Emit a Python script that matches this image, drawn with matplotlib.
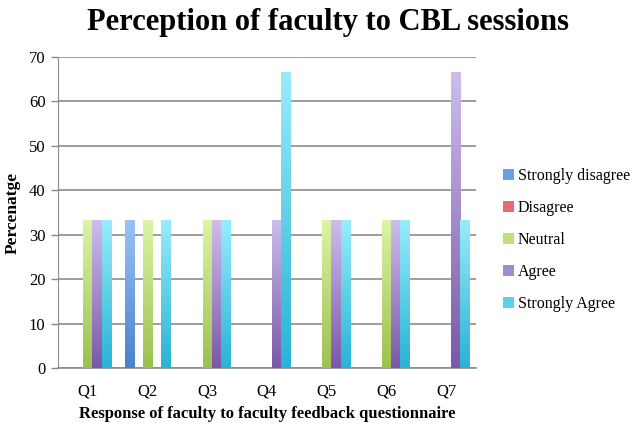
import matplotlib
matplotlib.use("Agg")
import matplotlib.pyplot as plt
import numpy as np
from matplotlib.colors import LinearSegmentedColormap
from matplotlib.patches import Patch

categories = ["Q1", "Q2", "Q3", "Q4", "Q5", "Q6", "Q7"]
series_names = ["Strongly disagree", "Disagree", "Neutral", "Agree", "Strongly Agree"]
strongly_disagree = [0, 33.3, 0, 0, 0, 0, 0]
disagree = [0, 0, 0, 0, 0, 0, 0]
neutral = [33.3, 33.3, 33.3, 0, 33.3, 33.3, 0]
agree = [33.3, 0, 33.3, 33.3, 33.3, 33.3, 66.7]
strongly_agree = [33.3, 33.3, 33.3, 66.7, 33.3, 33.3, 33.3]
values = [strongly_disagree, disagree, neutral, agree, strongly_agree]

# (bottom colour, top colour)
grad_colors = [("#4a80cc", "#9cc2f4"),
               ("#c84040", "#f29a9a"),
               ("#9cc050", "#dcf4a4"),
               ("#7a58a8", "#cdbdec"),
               ("#2ab2d4", "#98ecfb")]
legend_colors = ["#6a9ee6", "#e86a6a", "#c0e07a", "#a48ad0", "#5cd0ec"]

plt.rcParams['font.family'] = ['Liberation Serif', 'DejaVu Serif']

fig = plt.figure(figsize=(6.36, 4.25), dpi=100)
ax = fig.add_axes([58/636, 1-368/425, (476-58)/636, (368-57)/425])

n = len(series_names)
width = 0.154
x = np.arange(len(categories))
grad = np.linspace(0, 1, 256).reshape(-1, 1)
for i, (name, vals) in enumerate(zip(series_names, values)):
    offs = (i - (n - 1) / 2) * width
    bars = ax.bar(x + offs, vals, width, color="none", edgecolor="none", zorder=3)
    cmap = LinearSegmentedColormap.from_list(name, list(grad_colors[i]))
    for b in bars:
        h = b.get_height()
        if h <= 0:
            continue
        x0 = b.get_x()
        im = ax.imshow(grad, cmap=cmap, origin="lower", aspect="auto",
                       extent=[x0, x0 + b.get_width(), 0, h], zorder=3)
        im.set_clip_path(b)

ax.set_xlim(-0.5, len(categories) - 0.5)
ax.set_ylim(0, 70)
ax.set_yticks(range(0, 71, 10))
ax.set_xticks(x)
ax.set_xticklabels(categories, fontsize=12)
ax.tick_params(axis='y', labelsize=12, length=5, color="#888888", width=1, pad=4)
ax.tick_params(axis='x', length=0, pad=11)
ax.yaxis.grid(True, color="#8c8c8c", linewidth=1.2, zorder=0)
ax.set_axisbelow(True)
for s in ["top", "right"]:
    ax.spines[s].set_visible(False)
ax.spines["left"].set_color("#8c8c8c")
ax.spines["bottom"].set_color("#8c8c8c")
ax.spines["bottom"].set_linewidth(1.2)

ax.set_ylabel("Percenatge", fontsize=12.5, fontweight="bold", labelpad=6)
ax.set_xlabel("Response of faculty to faculty feedback questionnaire",
              fontsize=12, fontweight="bold", labelpad=5)
fig.text(0.515, 1-30/425, "Perception of faculty to CBL sessions", ha="center", va="baseline",
         fontsize=22, fontweight="bold")

handles = [Patch(facecolor=c, edgecolor="none") for c in legend_colors]
fig.legend(handles, series_names, loc="center left", bbox_to_anchor=(492/636, 1-240/425),
           frameon=False, fontsize=11.5, handlelength=0.7, handleheight=0.7,
           handletextpad=0.2, labelspacing=1.0, borderpad=0.2)

fig.savefig("out.png", dpi=100)
